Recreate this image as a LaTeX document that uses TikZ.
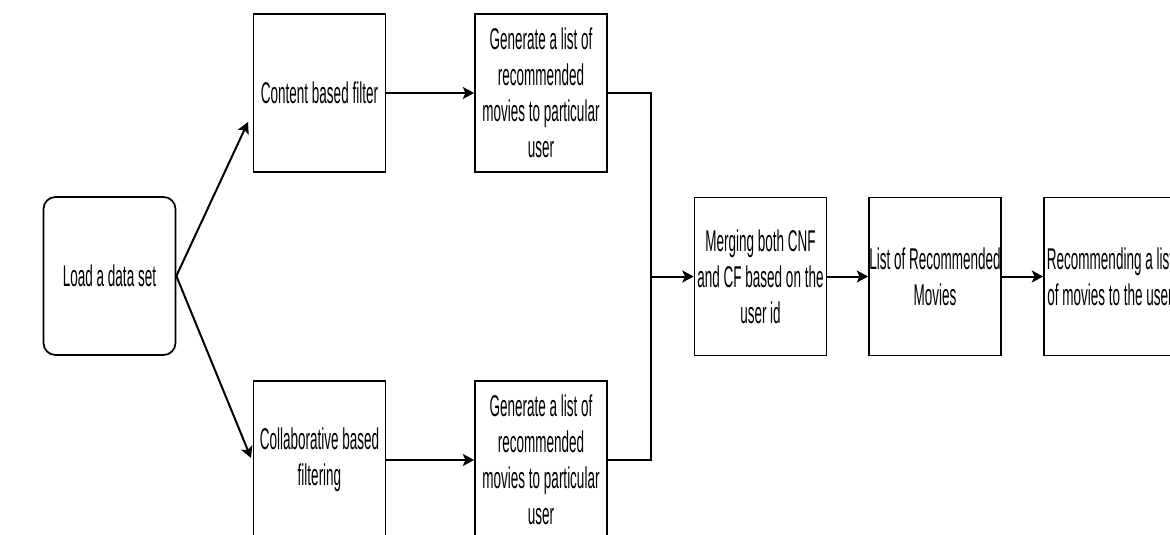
\documentclass[tikz,border=0pt]{standalone}
\usepackage{fontspec}
\newfontfamily\narrowfont[FakeStretch=0.45]{Liberation Sans}
\usetikzlibrary{arrows.meta}
\tikzset{
  box/.style={draw=black, line width=1.3pt, fill=white, minimum width=99pt, minimum height=118.5pt, inner sep=0pt, align=center, font=\narrowfont\fontsize{22.5pt}{27pt}\selectfont},
  rbox/.style={box, rounded corners=9pt},
  conn/.style={line width=1.5pt, draw=black},
  arr/.style={conn, -{Stealth[length=8.5pt, width=9pt, inset=2pt]}}
}
\begin{document}
\begin{tikzpicture}[x=0.75pt,y=-0.75pt]
\useasboundingbox (0,0) rectangle (1170,535);
\clip (0,0) rectangle (1170,535);
\fill[white] (0,0) rectangle (1170,535);
\node[rbox] (load) at (109.5,276) {Load a data set};
\node[box] (content) at (319.5,93) {Content based filter};
\node[box] (gen1) at (541,93) {Generate a list of\\recommended\\movies to particular\\user};
\node[box] (collab) at (319.5,460) {Collaborative based\\filtering};
\node[box] (gen2) at (541,460) {Generate a list of\\recommended\\movies to particular\\user};
\node[box] (merge) at (760.5,276.5) {Merging both CNF\\and CF based on the\\user id};
\node[box] (list) at (935,276.5) {List of Recommended\\Movies};
\node[box] (rec) at (1110,276.5) {Recommending a list\\of movies to the user};
\coordinate (t1) at (248,122);
\coordinate (t2) at (251,458);
\coordinate (j) at (651,276.5);
\draw[arr] (load.east) -- (t1);
\draw[arr] (load.east) -- (t2);
\draw[arr] (content.east) -- (gen1.west);
\draw[arr] (collab.east) -- (gen2.west);
\draw[conn] (gen1.east) -| (j);
\draw[conn] (gen2.east) -| (j);
\draw[arr] (j) -- (merge.west);
\draw[arr] (merge.east) -- (list.west);
\draw[arr] (list.east) -- (rec.west);
\end{tikzpicture}
\end{document}
